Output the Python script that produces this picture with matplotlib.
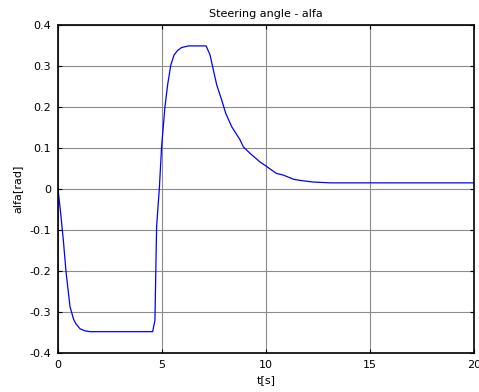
import matplotlib
matplotlib.use("Agg")
import matplotlib.pyplot as plt

plt.rcParams['font.family'] = ['DejaVu Sans']

# steering angle response, sampled points
t = [0, 0.13, 0.255, 0.385, 0.577, 0.75, 0.865, 1.06, 1.3, 1.54, 4.55, 4.66, 4.74,
     4.87, 4.98, 5.14, 5.27, 5.42, 5.58, 5.75, 5.94, 6.27, 7.12, 7.31, 7.47, 7.63,
     7.87, 8.06, 8.35, 8.75, 8.91, 9.23, 9.71, 10.0, 10.5, 10.83, 11.31, 11.63,
     12.27, 13.08, 20.0]
alfa = [0, -0.06, -0.124, -0.202, -0.287, -0.318, -0.329, -0.341, -0.346, -0.348,
        -0.348, -0.32, -0.092, 0.0, 0.103, 0.2, 0.254, 0.302, 0.327, 0.338, 0.345,
        0.349, 0.349, 0.327, 0.29, 0.254, 0.217, 0.185, 0.152, 0.12, 0.103, 0.087,
        0.066, 0.056, 0.038, 0.034, 0.024, 0.021, 0.017, 0.015, 0.015]

xticks = [0, 5, 10, 15, 20]
yticks = [-0.4, -0.3, -0.2, -0.1, 0, 0.1, 0.2, 0.3, 0.4]
ytick_labels = ['-0.4', '-0.3', '-0.2', '-0.1', '0', '0.1', '0.2', '0.3', '0.4']

fig = plt.figure(figsize=(4.79, 3.92), dpi=100)
ax = fig.add_axes([0.1211, 0.0995, 0.8685, 0.8367])

ax.plot(t, alfa, color='#0000ff', linewidth=0.9)

ax.set_xlim(0, 20)
ax.set_ylim(-0.4, 0.4)
ax.set_xticks(xticks)
ax.set_yticks(yticks)
ax.set_yticklabels(ytick_labels)
ax.grid(True, color='#8c8c8c', linewidth=0.8, linestyle='-')
ax.tick_params(direction='in', length=3, width=0.8, top=True, right=True,
               labelsize=8, pad=5)
for s in ax.spines.values():
    s.set_linewidth(1.2)

ax.set_title('Steering angle - alfa', fontsize=8, pad=6)
ax.set_xlabel('t[s]', fontsize=8, labelpad=4)
ax.set_ylabel('alfa[rad]', fontsize=8, labelpad=5)

fig.savefig('out.png', dpi=100)
